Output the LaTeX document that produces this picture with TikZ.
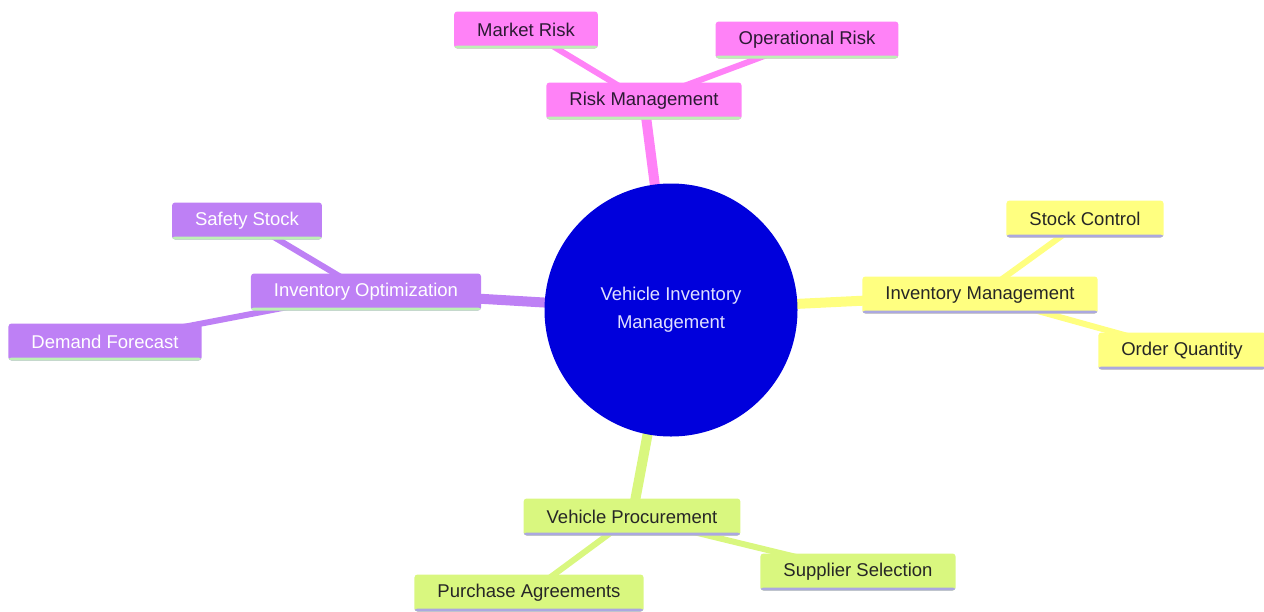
\documentclass[tikz,border=0pt]{standalone}
\usepackage{fontspec}
\setmainfont{Liberation Sans}
\usetikzlibrary{backgrounds}

\definecolor{rootblue}{HTML}{0000DC}
\definecolor{riskpink}{HTML}{FF82F7}
\definecolor{optpurple}{HTML}{BE80F5}
\definecolor{invyellow}{HTML}{FFFF80}
\definecolor{procgreen}{HTML}{D9F77F}
\definecolor{barmint}{HTML}{BDF0B5}
\definecolor{barlilac}{HTML}{ABA8E0}
\definecolor{darkink}{HTML}{2B1A33}

\tikzset{
    leaf/.style={rounded corners=3pt, minimum height=37pt, inner xsep=23pt,
        font=\fontsize{18.5}{22}\selectfont,
        path picture={\fill[#1] ([yshift=3pt]path picture bounding box.south west)
            rectangle (path picture bounding box.south east);}},
    riskbox/.style={leaf=barmint, fill=riskpink, text=darkink},
    optbox/.style={leaf=barmint, fill=optpurple, text=white},
    invbox/.style={leaf=barlilac, fill=invyellow, text=black!85},
    procbox/.style={leaf=barlilac, fill=procgreen, text=black!85},
    trunk/.style={line width=10pt},
    twig/.style={line width=6pt}
}

\begin{document}
\begin{tikzpicture}[x=1pt, y=-1pt]
    \useasboundingbox (0,0) rectangle (1264,611);

    % Root
    \node[circle, fill=rootblue, minimum size=253pt, text=white!88!blue,
        align=center, font=\fontsize{18.5}{28}\selectfont] (root) at (671,310)
        {Vehicle Inventory\\Management};

    % Risk Management branch
    \node[riskbox] (risk) at (644,101) {Risk Management};
    \node[riskbox] (market) at (526,30) {Market Risk};
    \node[riskbox] (oprisk) at (807,40) {Operational Risk};

    % Inventory Optimization branch
    \node[optbox] (optim) at (366,292) {Inventory Optimization};
    \node[optbox] (safety) at (247,221) {Safety Stock};
    \node[optbox] (demand) at (105,342) {Demand Forecast};

    % Inventory Management branch
    \node[invbox] (invmgmt) at (980,295) {Inventory Management};
    \node[invbox] (stock) at (1085,219) {Stock Control};
    \node[invbox] (order) at (1182,351) {Order Quantity};

    % Vehicle Procurement branch
    \node[procbox] (procure) at (632,517) {Vehicle Procurement};
    \node[procbox] (supplier) at (858,572) {Supplier Selection};
    \node[procbox] (purchase) at (529,593) {Purchase Agreements};

    % Connectors behind the nodes
    \begin{scope}[on background layer]
        \draw[trunk, riskpink] (root.center) -- (risk.center);
        \draw[twig, riskpink] (risk.center) -- (market.center);
        \draw[twig, riskpink] (risk.center) -- (oprisk.center);

        \draw[trunk, optpurple] (root.center) -- (optim.center);
        \draw[twig, optpurple] (optim.center) -- (safety.center);
        \draw[twig, optpurple] (optim.center) -- (demand.center);

        \draw[trunk, invyellow] (root.center) -- (invmgmt.center);
        \draw[twig, invyellow] (invmgmt.center) -- (stock.center);
        \draw[twig, invyellow] (invmgmt.center) -- (order.center);

        \draw[trunk, procgreen] (root.center) -- (procure.center);
        \draw[twig, procgreen] (procure.center) -- (supplier.center);
        \draw[twig, procgreen] (procure.center) -- (purchase.center);
    \end{scope}

\end{tikzpicture}
\end{document}
